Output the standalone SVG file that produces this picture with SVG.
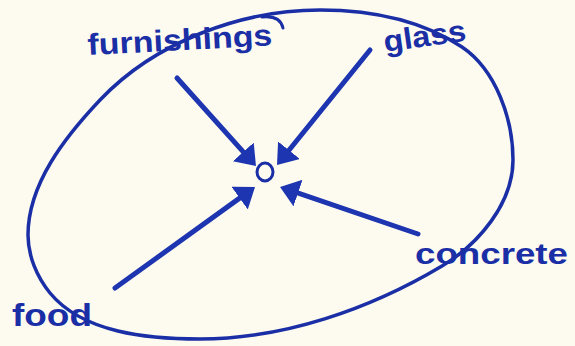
<svg xmlns="http://www.w3.org/2000/svg" width="575" height="346" viewBox="0 0 575 346">
<style>
.ink{fill:none;stroke:#1a2ea6;stroke-linecap:round;stroke-linejoin:round}
.lbl{font-family:"Liberation Sans",Arial,sans-serif;font-weight:bold;fill:#1a2ea6}
.arrow{fill:none;stroke:#1d35b0;stroke-width:5;stroke-linecap:round;marker-end:url(#head)}
</style>
<defs>
<marker id="head" markerUnits="userSpaceOnUse" markerWidth="30" markerHeight="30" refX="9" refY="14" orient="auto">
<path d="M0,0 L19,14 L0,28 z" fill="#1d35b0"/>
</marker>
</defs>
<rect width="575" height="346" fill="#fdfbef"/>
<g id="boundary">
<path class="ink" stroke-width="3.5" d="M320,10 C369,10 421,20 462,47 C496,70 513,119 513,160 C513,203 479,244 442,266 C370,309 284,339 200,339 C148,339 83,333 50,293 C37,277 28,256 28,235 C28,184 65,137 100,100 C155,42 241,10 320,10 Z"/>
<path class="ink" stroke-width="3" d="M262,17 Q280,15 283,28"/>
</g>
<g id="connectors">
<path class="arrow" d="M177,78 L249.3,158.6"/>
<path class="arrow" d="M370,50 L283.3,157.2"/>
<path class="arrow" d="M115,288 L246.9,192.9"/>
<path class="arrow" d="M418,234 L289.5,190.2"/>
</g>
<g id="center">
<ellipse class="ink" stroke-width="3" cx="265" cy="172" rx="8" ry="9"/>
</g>
<g id="furnishings"><text class="lbl" x="88" y="55" font-size="30" textLength="185" lengthAdjust="spacingAndGlyphs" transform="rotate(-3 88 55)">furnishings</text></g>
<g id="glass"><text class="lbl" x="385" y="52" font-size="30" textLength="83" lengthAdjust="spacingAndGlyphs" transform="rotate(-8 385 52)">glass</text></g>
<g id="concrete"><text class="lbl" x="415" y="264" font-size="30" textLength="153" lengthAdjust="spacingAndGlyphs">concrete</text></g>
<g id="food"><text class="lbl" x="12" y="326" font-size="32" textLength="80" lengthAdjust="spacingAndGlyphs">food</text></g>
</svg>
